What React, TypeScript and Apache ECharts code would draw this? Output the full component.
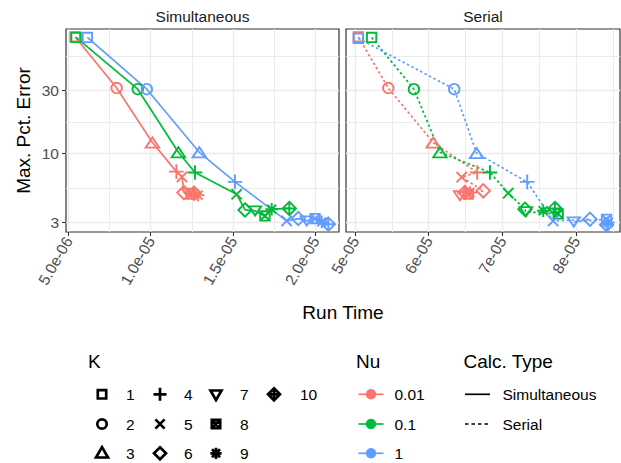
import React, { useEffect, useRef } from 'react';
import * as echarts from 'echarts';

// ---- data ----
const kValues = [1, 2, 3, 4, 5, 6, 7, 8, 9, 10];
const nuLabels = ['0.01', '0.1', '1'];
const calcTypes = ['Simultaneous', 'Serial'];

// Simultaneous: run time (s) and max pct error, by K
const simTimeNu001 = [5.40e-6, 7.93e-6, 10.10e-6, 11.56e-6, 11.90e-6, 12.02e-6, 12.27e-6, 12.45e-6, 12.88e-6, 12.63e-6];
const simErrNu001 = [77.0, 31.4, 12.1, 7.28, 6.63, 5.04, 4.99, 4.90, 4.82, 4.99];
const simTimeNu01 = [5.46e-6, 9.21e-6, 11.68e-6, 12.69e-6, 15.22e-6, 15.73e-6, 16.34e-6, 16.94e-6, 17.35e-6, 18.42e-6];
const simErrNu01 = [76.2, 30.8, 10.2, 7.17, 4.90, 3.72, 3.66, 3.35, 3.77, 3.82];
const simTimeNu1 = [6.15e-6, 9.76e-6, 12.95e-6, 15.12e-6, 18.26e-6, 18.97e-6, 19.48e-6, 19.99e-6, 20.39e-6, 20.79e-6];
const simErrNu1 = [76.2, 30.8, 10.2, 6.08, 3.07, 3.20, 3.07, 3.20, 3.02, 2.90];

// Serial
const serTimeNu001 = [5.045e-5, 5.452e-5, 6.062e-5, 6.659e-5, 6.448e-5, 6.741e-5, 6.425e-5, 6.537e-5, 6.56e-5, 6.49e-5];
const serErrNu001 = [77.0, 31.4, 12.1, 7.17, 6.6, 5.20, 4.77, 4.90, 5.05, 5.05];
const serTimeNu01 = [5.226e-5, 5.80e-5, 6.153e-5, 6.832e-5, 7.08e-5, 7.307e-5, 7.32e-5, 7.758e-5, 7.555e-5, 7.714e-5];
const serErrNu01 = [76.2, 30.8, 10.2, 7.17, 4.99, 3.77, 3.60, 3.47, 3.67, 3.82];
const serTimeNu1 = [5.045e-5, 6.347e-5, 6.651e-5, 7.338e-5, 7.69e-5, 8.19e-5, 7.97e-5, 8.415e-5, 8.437e-5, 8.415e-5];
const serErrNu1 = [75.0, 30.8, 10.05, 6.08, 3.07, 3.16, 3.02, 3.16, 2.99, 2.87];

// tick labels
const yTicks = [3, 10, 30];
const leftXTicks = [5e-6, 1e-5, 1.5e-5, 2e-5];
const leftXMinor = [7.5e-6, 1.25e-5, 1.75e-5];
const rightXTicks = [5e-5, 6e-5, 7e-5, 8e-5];
const rightXMinor = [5.5e-5, 6.5e-5, 7.5e-5, 8.5e-5];

// ---- style ----
const COLORS = ['#F8766D', '#00BA38', '#619CFF'];
const FONT = '"Liberation Sans", Arial, Helvetica, sans-serif';
const GRID_COLOR = '#EBEBEB';
const LABEL_SIZE = 15.5;
const TITLE_SIZE = 19;

// shapes centred at 0, in pixels: [path, width, height]
const SHAPES: [string, number, number][] = [
  ['M-4.2,-4.2L4.2,-4.2L4.2,4.2L-4.2,4.2Z', 8.4, 8.4],
  ['M-4.7,0A4.7,4.7 0 1 1 4.7,0A4.7,4.7 0 1 1 -4.7,0Z', 9.4, 9.4],
  ['M0,-6.2L6,4.2L-6,4.2Z', 12, 10.4],
  ['M-6.5,0L6.5,0M0,-6.5L0,6.5', 13, 13],
  ['M-4.6,-4.6L4.6,4.6M4.6,-4.6L-4.6,4.6', 9.2, 9.2],
  ['M0,-6L6,0L0,6L-6,0Z', 12, 12],
  ['M0,5.7L5.5,-3.8L-5.5,-3.8Z', 11, 9.5],
  ['M-4.2,-4.2L4.2,-4.2L4.2,4.2L-4.2,4.2ZM-4.2,-4.2L4.2,4.2M4.2,-4.2L-4.2,4.2', 8.4, 8.4],
  ['M-5.6,0L5.6,0M0,-5.6L0,5.6M-4,-4L4,4M4,-4L-4,4', 11.2, 11.2],
  ['M0,-6L6,0L0,6L-6,0ZM-6,0L6,0M0,-6L0,6', 12, 12],
];

SHAPES.forEach((s, i) => {
  echarts.graphic.registerShape('kshape' + i, echarts.graphic.extendPath(s[0], {}) as any);
});

function sciLabel(v: number, digits: number): string {
  const exp = Math.floor(Math.log10(v) + 1e-9);
  const mant = v / Math.pow(10, exp);
  return mant.toFixed(digits) + 'e' + (exp < 0 ? '-' : '+') + String(Math.abs(exp)).padStart(2, '0');
}

const L = Math.log10;
const yMajor = yTicks.map(L);
const yMinor = [(L(3) + 1) / 2, (1 + L(30)) / 2, (L(30) + 2) / 2];
const Y_MIN = 0.403;
const Y_MAX = 1.946;

function textEl(text: string, x: number, y: number, size: number, color: string, align = 'left', rotation = 0) {
  return {
    type: 'text',
    x,
    y,
    rotation,
    silent: true,
    style: {
      text,
      fontSize: size,
      fontFamily: FONT,
      fill: color,
      align,
      verticalAlign: 'middle',
      textAlign: align,
      textVerticalAlign: 'middle',
    },
  };
}

function buildOption() {
  const grids = [
    { left: 66, top: 29, width: 273, height: 203 },
    { left: 346, top: 29, width: 274, height: 203 },
  ].map((g) => ({ ...g, show: true, borderColor: '#333333', borderWidth: 1.2, backgroundColor: 'transparent' }));

  const xRanges = [
    [4.85e-6, 21.44e-6],
    [4.878e-5, 8.597e-5],
  ];
  const xMajors = [leftXTicks, rightXTicks];
  const xMinors = [leftXMinor, rightXMinor];
  const xDigits = [1, 0];

  const xAxis: any[] = [];
  const yAxis: any[] = [];
  for (let g = 0; g < 2; g++) {
    xAxis.push({
      type: 'value',
      gridIndex: g,
      min: xRanges[g][0],
      max: xRanges[g][1],
      axisLine: { show: false },
      axisTick: { show: true, length: 4, customValues: xMajors[g], lineStyle: { color: '#333333', width: 1.1 } },
      axisLabel: {
        show: true,
        customValues: xMajors[g],
        rotate: 60,
        margin: 6,
        fontSize: LABEL_SIZE,
        fontFamily: FONT,
        color: '#4D4D4D',
        formatter: (v: number) => sciLabel(v, xDigits[g]),
      },
      splitLine: { show: true, lineStyle: { color: GRID_COLOR, width: 1.3 } },
    });
    xAxis.push({
      type: 'value',
      gridIndex: g,
      min: xRanges[g][0],
      max: xRanges[g][1],
      axisLine: { show: false },
      axisTick: { show: false, customValues: xMinors[g] },
      axisLabel: { show: false, customValues: xMinors[g] },
      splitLine: { show: true, lineStyle: { color: GRID_COLOR, width: 1 } },
    });
    yAxis.push({
      type: 'value',
      gridIndex: g,
      min: Y_MIN,
      max: Y_MAX,
      axisLine: { show: false },
      axisTick: { show: g === 0, length: 4, customValues: yMajor, lineStyle: { color: '#333333', width: 1.1 } },
      axisLabel: {
        show: g === 0,
        customValues: yMajor,
        margin: 7,
        fontSize: LABEL_SIZE,
        fontFamily: FONT,
        color: '#4D4D4D',
        formatter: (v: number) => String(Math.round(Math.pow(10, v))),
      },
      splitLine: { show: true, lineStyle: { color: GRID_COLOR, width: 1.3 } },
    });
    yAxis.push({
      type: 'value',
      gridIndex: g,
      min: Y_MIN,
      max: Y_MAX,
      axisLine: { show: false },
      axisTick: { show: false, customValues: yMinor },
      axisLabel: { show: false, customValues: yMinor },
      splitLine: { show: true, lineStyle: { color: GRID_COLOR, width: 1 } },
    });
  }

  const panels = [
    { times: [simTimeNu001, simTimeNu01, simTimeNu1], errs: [simErrNu001, simErrNu01, simErrNu1], dash: 'solid' as any },
    { times: [serTimeNu001, serTimeNu01, serTimeNu1], errs: [serErrNu001, serErrNu01, serErrNu1], dash: [2.5, 2.5] as any },
  ];

  const series: any[] = [];
  panels.forEach((p, g) => {
    nuLabels.forEach((nu, n) => {
      series.push({
        type: 'line',
        name: calcTypes[g] + ' ' + nu,
        xAxisIndex: g * 2,
        yAxisIndex: g * 2,
        silent: true,
        emphasis: { disabled: true },
        lineStyle: { color: COLORS[n], width: 1.7, type: p.dash },
        itemStyle: { color: 'rgba(0,0,0,0)', borderColor: COLORS[n], borderWidth: 1.9 },
        symbolKeepAspect: true,
        data: kValues.map((k, i) => ({
          value: [p.times[n][i], L(p.errs[n][i])],
          symbol: 'path://' + SHAPES[i][0],
          symbolSize: [SHAPES[i][1] * 1.12, SHAPES[i][2] * 1.12],
        })),
      });
    });
  });

  // legend + titles
  const graphics: any[] = [];
  graphics.push(textEl(calcTypes[0], 202.5, 16, LABEL_SIZE, '#1A1A1A', 'center'));
  graphics.push(textEl(calcTypes[1], 483, 16, LABEL_SIZE, '#1A1A1A', 'center'));
  graphics.push(textEl('Run Time', 343, 312, TITLE_SIZE, '#000000', 'center'));
  graphics.push(textEl('Max. Pct. Error', 23, 130.5, TITLE_SIZE, '#000000', 'center', Math.PI / 2));

  // K legend
  graphics.push(textEl('K', 88, 361.5, TITLE_SIZE, '#000000'));
  const shapeX = [102, 160, 216, 274];
  const labelX = [126, 184, 240, 300];
  const rowY = [394.3, 424, 453.3];
  kValues.forEach((k, i) => {
    const col = Math.floor(i / 3);
    const row = i % 3;
    graphics.push({
      type: 'kshape' + i,
      x: shapeX[col],
      y: rowY[row],
      silent: true,
      style: { fill: 'none', stroke: '#000000', lineWidth: 2.7 },
    });
    graphics.push(textEl(String(k), labelX[col], rowY[row], LABEL_SIZE, '#000000'));
  });

  // Nu legend
  graphics.push(textEl('Nu', 356, 361.5, TITLE_SIZE, '#000000'));
  nuLabels.forEach((nu, n) => {
    graphics.push({
      type: 'line',
      silent: true,
      shape: { x1: 358.5, y1: rowY[n], x2: 383.5, y2: rowY[n] },
      style: { stroke: COLORS[n], lineWidth: 1.7 },
    });
    graphics.push({
      type: 'circle',
      silent: true,
      shape: { cx: 371, cy: rowY[n], r: 5.2 },
      style: { fill: COLORS[n] },
    });
    graphics.push(textEl(nu, 394.5, rowY[n], LABEL_SIZE, '#000000'));
  });

  // Calc. Type legend
  graphics.push(textEl('Calc. Type', 463.5, 361.5, TITLE_SIZE, '#000000'));
  calcTypes.forEach((c, i) => {
    graphics.push({
      type: 'line',
      silent: true,
      shape: { x1: 465, y1: rowY[i], x2: 490, y2: rowY[i] },
      style: { stroke: '#000000', lineWidth: 1.7, lineDash: i === 0 ? null : [3.5, 3] },
    });
    graphics.push(textEl(c, 502.5, rowY[i], LABEL_SIZE, '#000000'));
  });

  return {
    animation: false,
    backgroundColor: '#FFFFFF',
    grid: grids,
    xAxis,
    yAxis,
    series,
    graphic: { elements: graphics },
  };
}

export default function App() {
  const ref = useRef<HTMLDivElement>(null);
  useEffect(() => {
    if (!ref.current) return;
    const chart = echarts.init(ref.current, undefined, { renderer: 'svg' });
    chart.setOption(buildOption() as any);
    return () => chart.dispose();
  }, []);
  return (
    <div
      ref={ref}
      style={{ position: 'fixed', left: 0, top: 0, width: 621, height: 463, background: '#fff' }}
    />
  );
}
